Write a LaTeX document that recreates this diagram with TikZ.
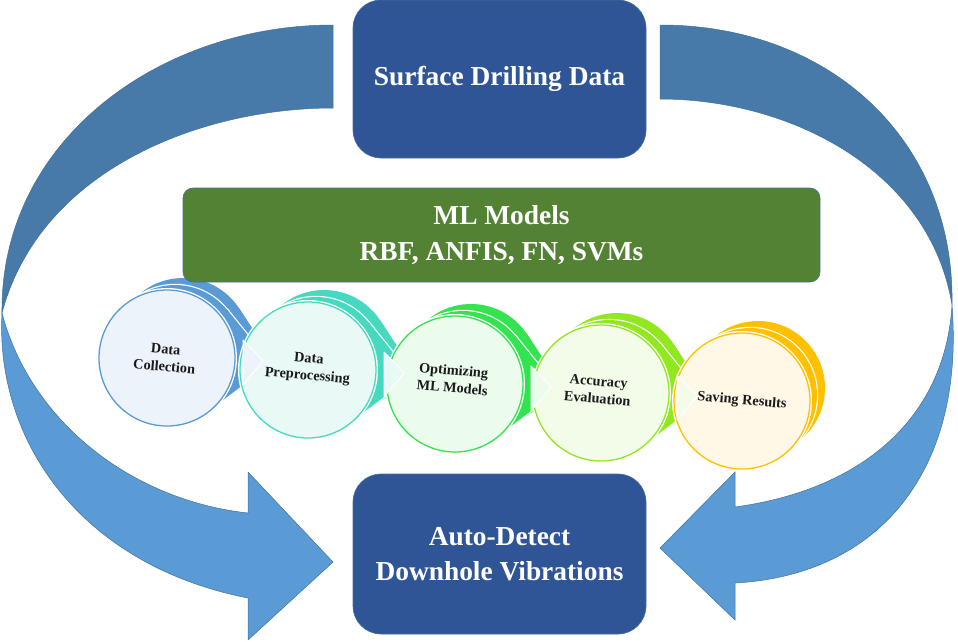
\documentclass[tikz,border=0pt]{standalone}
\usepackage{fontspec}
\setmainfont{Liberation Serif}
\usetikzlibrary{calc}
\definecolor{arcdark}{HTML}{477AA9}
\definecolor{arclight}{HTML}{5B9BD5}
\definecolor{arcline}{HTML}{41719C}
\definecolor{boxblue}{HTML}{2F5597}
\definecolor{boxgreen}{HTML}{548235}
\definecolor{ca}{HTML}{5B9BD5}\definecolor{la}{HTML}{EDF3FB}
\definecolor{cb}{HTML}{47D9BF}\definecolor{lb}{HTML}{E9FAF6}
\definecolor{cc}{HTML}{33E34F}\definecolor{lc}{HTML}{EBFBEC}
\definecolor{cd}{HTML}{92E81F}\definecolor{ld}{HTML}{F2FCE9}
\definecolor{ce}{HTML}{FFC000}\definecolor{le}{HTML}{FFF8E6}
\definecolor{steptext}{HTML}{1A1A1A}
\begin{document}
\begin{tikzpicture}[x=1pt,y=-1pt,
  bigbox/.style={draw=arcline,line width=0.6pt,fill=boxblue,rounded corners=28pt,
    text=white,font=\bfseries\fontsize{27.4}{35}\selectfont,align=center,inner sep=0pt},
  greenbox/.style={draw=arcline,line width=0.6pt,fill=boxgreen,rounded corners=10pt,
    text=white,font=\bfseries\fontsize{27.4}{36}\selectfont,align=center,inner sep=0pt},
  arcband/.style={fill=arcdark,draw=arcline,line width=0.5pt},
  arcarrow/.style={fill=arclight,draw=arcline,line width=0.5pt},
  backdisc/.style={circle,minimum size=134pt,inner sep=0pt},
  frontdisc/.style={circle,minimum size=136pt,inner sep=0pt,line width=1.3pt},
  steplabel/.style={text=steptext,font=\bfseries\fontsize{14.3}{17.5}\selectfont,
    align=center,inner sep=0pt,rotate=-5}
]
\useasboundingbox (0,0) rectangle (958,641);

% ---- big curved arrows
\path[arcband] (333,25) .. controls (160,25) and (0,140) .. (2,313)
   .. controls (40,170) and (200,108) .. (333,108) -- cycle;
\path[arcarrow] (2,313) .. controls (-5,440) and (80,565) .. (248,598)
   -- (248,640) -- (333,562) -- (248,472) -- (248,513)
   .. controls (130,500) and (30,420) .. (2,313) -- cycle;
\path[arcband] (660,25) .. controls (830,25) and (955,140) .. (952,305)
   .. controls (930,170) and (790,99) .. (660,99) -- cycle;
\path[arcarrow] (952,305) .. controls (965,470) and (880,575) .. (735,583)
   -- (735,620) -- (660,548) -- (735,472) -- (735,507)
   .. controls (860,490) and (945,420) .. (952,305) -- cycle;

% ---- boxes
\node[bigbox,minimum width=293pt,minimum height=158pt] (surf) at (499.5,79) {Surface Drilling Data};
\node[bigbox,minimum width=293pt,minimum height=160pt] (auto) at (499.5,554) {Auto-Detect\\Downhole Vibrations};

% ---- process steps
\foreach \cx/\cy/\c/\l [count=\i] in {
   167/358/ca/la, 308/370/cb/lb, 455/384/cc/lc, 601/393/cd/ld, 742/401/ce/le}{
  \begin{scope}[shift={(\cx,\cy)}]
    % layer 3
    \node[backdisc] (b3\i) at (16,-13) {};
    \coordinate (p3\i) at (110,8);
    \draw[white,line width=2.4pt] (b3\i.center) circle[radius=67];
    \ifnum\i<5
      \draw[white,line width=2.4pt,line join=round] (b3\i.center)
        -- (tangent cs:node=b3\i,point={(p3\i)},solution=1) -- (p3\i)
        -- (tangent cs:node=b3\i,point={(p3\i)},solution=2) -- cycle;
      \fill[\c] (b3\i.center)
        -- (tangent cs:node=b3\i,point={(p3\i)},solution=1) -- (p3\i)
        -- (tangent cs:node=b3\i,point={(p3\i)},solution=2) -- cycle;
    \fi
    \fill[\c] (b3\i.center) circle[radius=67];
    % layer 2
    \node[backdisc] (b2\i) at (8,-6) {};
    \coordinate (p2\i) at (104,6);
    \draw[white,line width=2.4pt] (b2\i.center) circle[radius=67];
    \ifnum\i<5
      \draw[white,line width=2.4pt,line join=round] (b2\i.center)
        -- (tangent cs:node=b2\i,point={(p2\i)},solution=1) -- (p2\i)
        -- (tangent cs:node=b2\i,point={(p2\i)},solution=2) -- cycle;
      \fill[\c] (b2\i.center)
        -- (tangent cs:node=b2\i,point={(p2\i)},solution=1) -- (p2\i)
        -- (tangent cs:node=b2\i,point={(p2\i)},solution=2) -- cycle;
    \fi
    \fill[\c] (b2\i.center) circle[radius=67];
    % front
    \node[frontdisc,fill=\l,draw=\c,preaction={draw=white,line width=4pt}] (f\i) at (0,0) {};
  \end{scope}
}

% ---- light pointers into the next step
\foreach \i/\l in {1/la,2/lb,3/lc,4/ld}{
  \fill[\l,draw=white,line width=1pt,line join=round]
    ($(f\i.center)+(76,-18)$) -- ($(f\i.center)+(96,3)$) -- ($(f\i.center)+(76,27)$) -- cycle;
}

% ---- step labels
\node[steplabel] (t1) at ($(f1.center)+(-2,0)$) {Data\\Collection};
\node[steplabel] (t2) at ($(f2.center)+(0,-2)$) {Data\\Preprocessing};
\node[steplabel] (t3) at ($(f3.center)+(-2,-5)$) {Optimizing\\ML Models};
\node[steplabel] (t4) at ($(f4.center)+(-3,-3)$) {Accuracy\\Evaluation};
\node[steplabel] (t5) at (f5.center) {Saving Results};

% ---- ML models box
\node[greenbox,minimum width=637pt,minimum height=94pt] (ml) at (501.5,235) {ML Models\\RBF, ANFIS, FN, SVMs};
\end{tikzpicture}
\end{document}
